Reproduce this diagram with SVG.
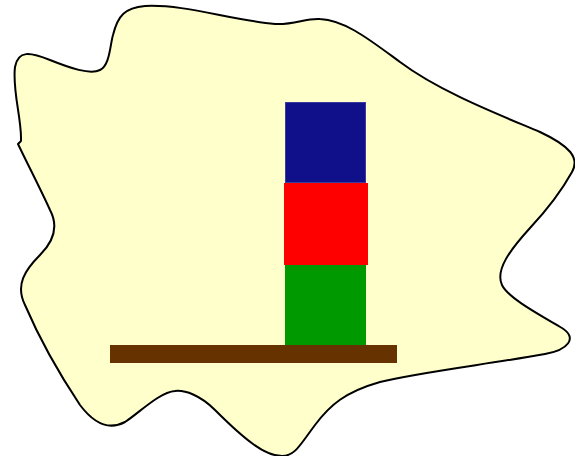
<svg xmlns="http://www.w3.org/2000/svg" width="575" height="456" viewBox="0 0 575 456">
<style>
.blob{fill:#ffffcc;stroke:#000;stroke-width:2;stroke-linejoin:round}
</style>
<g id="background">
<path class="blob" d="M 145 6 C 185 4, 230 20, 275 24 C 295 25, 305 18, 320 19 C 345 20, 370 40, 400 62 C 440 92, 500 115, 540 132 C 570 146, 580 158, 572 172 C 562 190, 545 212, 530 228 C 510 250, 495 270, 502 285 C 508 298, 540 315, 562 328 C 578 338, 568 350, 545 354 C 490 364, 420 372, 380 382 C 345 392, 330 405, 315 425 C 300 445, 295 456, 282 456 C 265 456, 245 440, 215 410 C 200 395, 185 390, 175 391 C 160 392, 140 412, 125 422 C 110 430, 95 425, 80 405 C 60 375, 40 340, 25 305 C 15 285, 25 270, 40 255 C 55 240, 58 225, 50 210 C 40 188, 28 165, 18 144 L 21 141 C 22 120, 12 90, 15 67 C 18 50, 30 52, 50 60 C 70 68, 90 75, 100 70 C 110 65, 110 45, 113 35 C 118 15, 125 8, 145 6 Z"/>
</g>
<g id="plank"><rect x="110" y="345" width="287" height="18" fill="#663300"/></g>
<g id="green-block"><rect x="285" y="265" width="81" height="80" fill="#009900"/></g>
<g id="red-block"><rect x="284" y="183" width="84" height="82" fill="#ff0000"/></g>
<g id="blue-block"><rect x="285.5" y="102.5" width="80" height="80" fill="#10108a" stroke="#3a3aa0" stroke-width="1"/></g>
</svg>
